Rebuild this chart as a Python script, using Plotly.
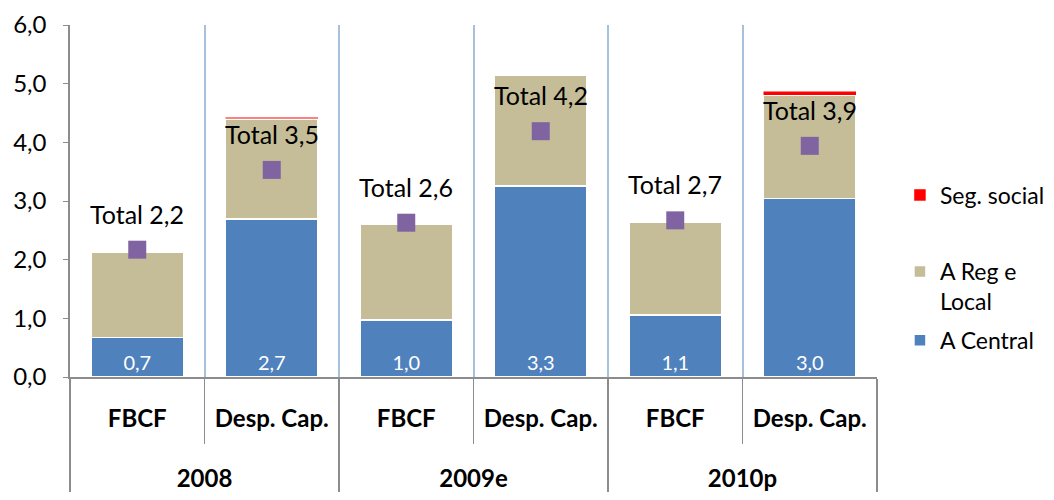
import plotly.graph_objects as go

# categorias (dois níveis)
anos = ["2008", "2008", "2009e", "2009e", "2010p", "2010p"]
tipos = ["FBCF", "Desp. Cap.", "FBCF", "Desp. Cap.", "FBCF", "Desp. Cap."]

# séries (% do PIB)
a_central = [0.67, 2.69, 0.97, 3.26, 1.06, 3.04]
a_reg_local = [1.46, 1.71, 1.63, 1.88, 1.57, 1.76]
seg_social = [0.0, 0.03, 0.0, 0.0, 0.0, 0.07]
total = [2.17, 3.53, 2.63, 4.19, 2.67, 3.94]

y_ticks = [0, 1, 2, 3, 4, 5, 6]

FONTE = "Lato, Calibri, sans-serif"
CINZA = "#8c8c8c"

# linhas em branco antes do ano para o baixar até ao fundo
x = [["<br><br><span style='baseline-shift:14px'>" + a + "</span>" for a in anos],
     tipos]

fig = go.Figure()
fig.add_trace(go.Bar(
    name="A Central", x=x, y=a_central,
    marker=dict(color="#4F81BD", line=dict(color="white", width=1.5)),
    texttemplate="%{y:.1f}", textposition="inside", insidetextanchor="start",
    textfont=dict(color="white", size=20, family=FONTE),
    legend="legend", legendgroup="c", legendrank=2,
))
fig.add_trace(go.Bar(
    name="A Reg e<br>Local", x=x, y=a_reg_local,
    marker=dict(color="#C4BD97", line=dict(color="white", width=1.5)),
    legend="legend", legendgroup="r", legendrank=1,
))
fig.add_trace(go.Bar(
    name="Seg. social", x=x, y=seg_social,
    marker=dict(color="#FF0000", line=dict(color="white", width=0.5)),
    legend="legend2",
))
fig.add_trace(go.Scatter(
    name="Total", x=x, y=total, mode="markers",
    marker=dict(symbol="square", size=18, color="#8064A2"),
    showlegend=False,
))

for i, v in enumerate(total):
    fig.add_annotation(
        x=i, y=v, text=f"Total {v:.1f}".replace(".", ","),
        showarrow=False, yshift=36,
        font=dict(size=25, color="black", family=FONTE),
    )

# a página tem 8px de margem no body: figura mais pequena para não transbordar
fig.update_layout(
    width=1038, height=484,
    barmode="stack", bargap=0.31,
    separators=", ",
    font=dict(family=FONTE, size=24, color="black"),
    plot_bgcolor="white", paper_bgcolor="white",
    margin=dict(l=62, r=169, t=17, b=115, autoexpand=False),
    legend=dict(xref="container", yref="container", x=0.8593, y=0.3843,
                xanchor="left", yanchor="middle",
                traceorder="grouped", valign="top", tracegroupgap=6,
                font=dict(size=23, family=FONTE)),
    legend2=dict(xref="container", yref="container", x=0.8593, y=0.6136,
                 xanchor="left", yanchor="middle",
                 font=dict(size=23, family=FONTE)),
    yaxis=dict(range=[0, 6], tickvals=y_ticks, tickformat=".1f",
               showgrid=False, zeroline=False, showline=True,
               linecolor=CINZA, linewidth=1.5, ticks="outside",
               ticklen=5, tickcolor=CINZA, ticklabelstandoff=12,
               tickfont=dict(size=24), automargin=False),
    xaxis=dict(type="multicategory", showline=True, linecolor=CINZA,
               linewidth=1.5, showgrid=True, gridcolor="#A7C0DE",
               gridwidth=1.5, tickson="boundaries", ticks="outside",
               ticklen=65, tickcolor=CINZA, dividercolor=CINZA,
               dividerwidth=1.5, automargin=False, ticklabelstandoff=19,
               tickfont=dict(size=24, family=FONTE, weight="bold")),
)

fig.write_html("out.html")
